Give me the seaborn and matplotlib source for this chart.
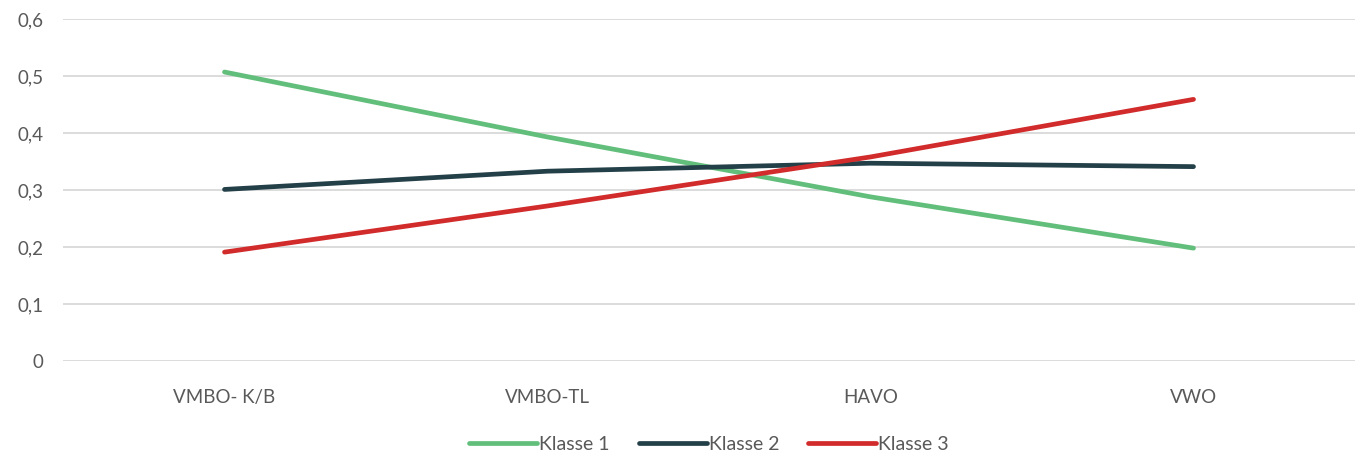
import pandas as pd
import matplotlib
import matplotlib.pyplot as plt
import seaborn as sns

matplotlib.use('Agg')

# data
categories = ['VMBO- K/B', 'VMBO-TL', 'HAVO', 'VWO']
klasse_1 = [0.507, 0.393, 0.288, 0.198]
klasse_2 = [0.301, 0.333, 0.347, 0.341]
klasse_3 = [0.191, 0.272, 0.358, 0.459]
series_names = ['Klasse 1', 'Klasse 2', 'Klasse 3']
colors = ['#62BE7B', '#233F47', '#D22B2B']
y_ticks = [0, 0.1, 0.2, 0.3, 0.4, 0.5, 0.6]

df = pd.DataFrame({'Opleiding': categories * 3,
                   'Waarde': klasse_1 + klasse_2 + klasse_3,
                   'Klasse': [n for n in series_names for _ in categories]})

sns.set_style('white')
plt.rcParams['font.family'] = ['Lato', 'DejaVu Sans']
text_color = '#595959'

fig = plt.figure(figsize=(13.61, 4.58), dpi=100)
ax = fig.add_axes([0.0463, 0.2118, 0.9493, 0.7467])

sns.lineplot(data=df, x='Opleiding', y='Waarde', hue='Klasse',
             palette=colors, linewidth=3.4, ax=ax, sort=False,
             solid_capstyle='round')

ax.set_xlim(-0.5, 3.5)
ax.set_ylim(0, 0.6)
ax.set_yticks(y_ticks)
ax.set_yticklabels([('%g' % t).replace('.', ',') for t in y_ticks])
ax.yaxis.grid(True, color='#D9D9D9', linewidth=1.3)
ax.set_axisbelow(True)
ax.tick_params(axis='both', length=0, labelsize=13.5, labelcolor=text_color)
ax.tick_params(axis='x', pad=20)
ax.tick_params(axis='y', pad=14)
for s in ax.spines.values():
    s.set_visible(False)
ax.set_xlabel('')
ax.set_ylabel('')

leg = ax.legend(loc='center', bbox_to_anchor=(0.5, -0.245), ncol=3,
                frameon=False, fontsize=14, handlelength=3.5,
                handletextpad=0.1, columnspacing=1.5)
for t in leg.get_texts():
    t.set_color(text_color)
for h in leg.get_lines():
    h.set_linewidth(3.4)
    h.set_solid_capstyle('round')

fig.savefig('out.png', dpi=100)
plt.close()
